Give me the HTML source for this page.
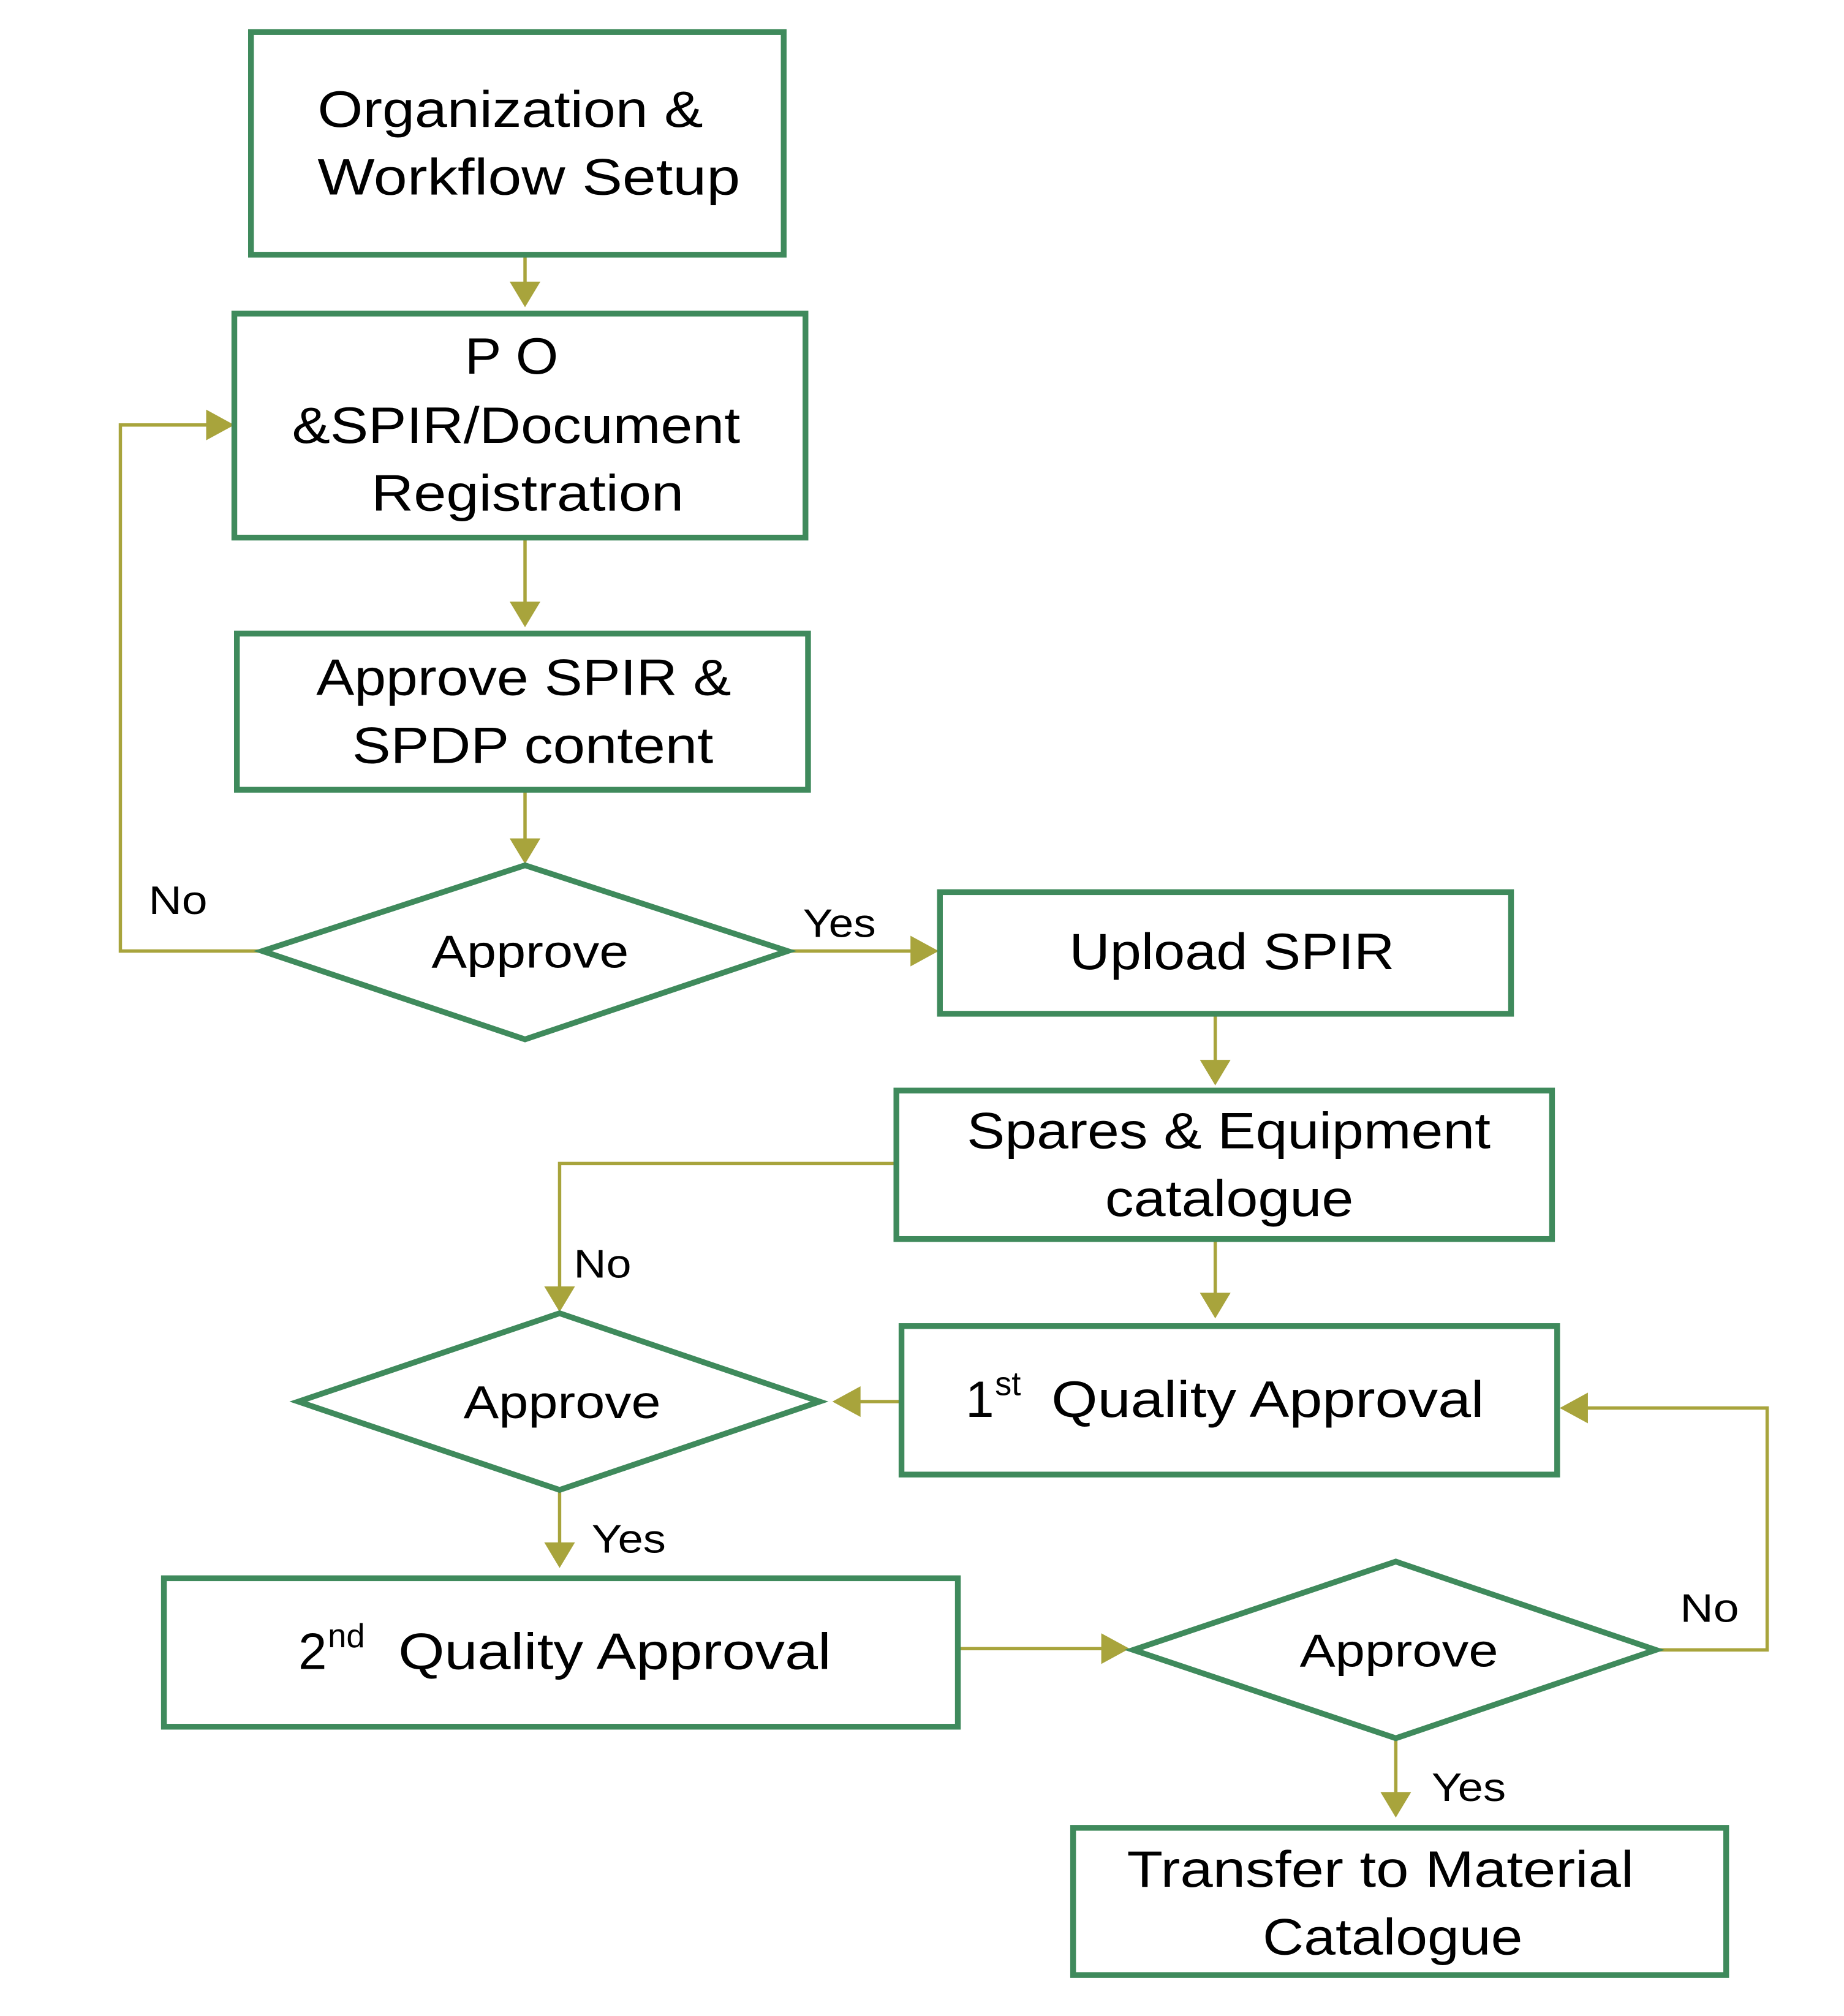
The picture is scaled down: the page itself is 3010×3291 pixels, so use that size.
<!DOCTYPE html>
<html><head><meta charset="utf-8"><style>
html,body{margin:0;padding:0;background:#fff;width:3010px;height:3291px;overflow:hidden}
svg{display:block}
text{font-family:"Liberation Sans",sans-serif;fill:#000}
.b{fill:#fff;stroke:#3f8a5c;stroke-width:4.5}
.l{fill:none;stroke:#a8a43c;stroke-width:2.6}
.a{fill:#a8a43c}
.t{font-size:40px}
.d{font-size:36px}
.s{font-size:31px}
</style></head><body>
<svg width="3010" height="3291" viewBox="0 0 1440 1575" preserveAspectRatio="none" xmlns="http://www.w3.org/2000/svg">
<path class="l" d="M410 199V222 M410 420V472 M410 617V658 M205 743H94V332H165 M615 743H715 M949 792V830 M700 909H437V1007 M949 968V1012 M710 1095H668 M437 1164V1207 M748 1288H862 M1293 1289H1380V1100H1236 M1090 1358V1402"/>
<polygon class="a" points="398,220 422,220 410,240"/>
<polygon class="a" points="398,470 422,470 410,490"/>
<polygon class="a" points="398,655 422,655 410,675"/>
<polygon class="a" points="161,320 161,344 183,332"/>
<polygon class="a" points="711,731 711,755 733,743"/>
<polygon class="a" points="937,828 961,828 949,848"/>
<polygon class="a" points="425,1005 449,1005 437,1025"/>
<polygon class="a" points="937,1010 961,1010 949,1030"/>
<polygon class="a" points="672,1083 672,1107 650,1095"/>
<polygon class="a" points="425,1205 449,1205 437,1225"/>
<polygon class="a" points="860,1276 860,1300 882,1288"/>
<polygon class="a" points="1240,1088 1240,1112 1218,1100"/>
<polygon class="a" points="1078,1400 1102,1400 1090,1420"/>
<rect class="b" x="196" y="25" width="416" height="174"/>
<rect class="b" x="183" y="245" width="446" height="175"/>
<rect class="b" x="185" y="495" width="446" height="122"/>
<polygon class="b" points="205,743 410,676 615,743 410,812"/>
<rect class="b" x="734" y="697" width="446" height="95"/>
<rect class="b" x="700" y="852" width="512" height="116"/>
<rect class="b" x="704" y="1036" width="512" height="116"/>
<polygon class="b" points="233,1095 437,1026 640,1095 437,1164"/>
<rect class="b" x="128" y="1233" width="620" height="116"/>
<polygon class="b" points="885,1289 1090,1220 1293,1289 1090,1358"/>
<rect class="b" x="838" y="1428" width="510" height="115"/>
<text class="t" x="248" y="99" textLength="301" lengthAdjust="spacingAndGlyphs">Organization &amp;</text>
<text class="t" x="248" y="152" textLength="330" lengthAdjust="spacingAndGlyphs">Workflow Setup</text>
<text class="t" x="363" y="292" textLength="73" lengthAdjust="spacingAndGlyphs">P O</text>
<text class="t" x="228" y="346" textLength="350" lengthAdjust="spacingAndGlyphs">&amp;SPIR/Document</text>
<text class="t" x="290" y="399" textLength="244" lengthAdjust="spacingAndGlyphs">Registration</text>
<text class="t" x="247" y="543" textLength="324" lengthAdjust="spacingAndGlyphs">Approve SPIR &amp;</text>
<text class="t" x="275" y="596" textLength="282" lengthAdjust="spacingAndGlyphs">SPDP content</text>
<text class="d" x="337" y="756" textLength="154" lengthAdjust="spacingAndGlyphs">Approve</text>
<text class="t" x="835" y="757" textLength="254" lengthAdjust="spacingAndGlyphs">Upload SPIR</text>
<text class="t" x="755" y="897" textLength="409" lengthAdjust="spacingAndGlyphs">Spares &amp; Equipment</text>
<text class="t" x="863" y="950" textLength="194" lengthAdjust="spacingAndGlyphs">catalogue</text>
<text class="t" x="754" y="1107">1</text>
<text x="777" y="1090" style="font-size:26px">st</text>
<text class="t" x="821" y="1107" textLength="338" lengthAdjust="spacingAndGlyphs">Quality Approval</text>
<text class="d" x="362" y="1108" textLength="154" lengthAdjust="spacingAndGlyphs">Approve</text>
<text class="t" x="233" y="1304">2</text>
<text x="256" y="1287" style="font-size:26px">nd</text>
<text class="t" x="311" y="1304" textLength="338" lengthAdjust="spacingAndGlyphs">Quality Approval</text>
<text class="d" x="1015" y="1302" textLength="155" lengthAdjust="spacingAndGlyphs">Approve</text>
<text class="t" x="880" y="1474" textLength="396" lengthAdjust="spacingAndGlyphs">Transfer to Material</text>
<text class="t" x="986" y="1527" textLength="203" lengthAdjust="spacingAndGlyphs">Catalogue</text>
<text class="s" x="116" y="714" textLength="46" lengthAdjust="spacingAndGlyphs">No</text>
<text class="s" x="627" y="732" textLength="57" lengthAdjust="spacingAndGlyphs">Yes</text>
<text class="s" x="448" y="998" textLength="45" lengthAdjust="spacingAndGlyphs">No</text>
<text class="s" x="462" y="1213" textLength="58" lengthAdjust="spacingAndGlyphs">Yes</text>
<text class="s" x="1312" y="1267" textLength="46" lengthAdjust="spacingAndGlyphs">No</text>
<text class="s" x="1118" y="1407" textLength="58" lengthAdjust="spacingAndGlyphs">Yes</text>
</svg>
</body></html>
